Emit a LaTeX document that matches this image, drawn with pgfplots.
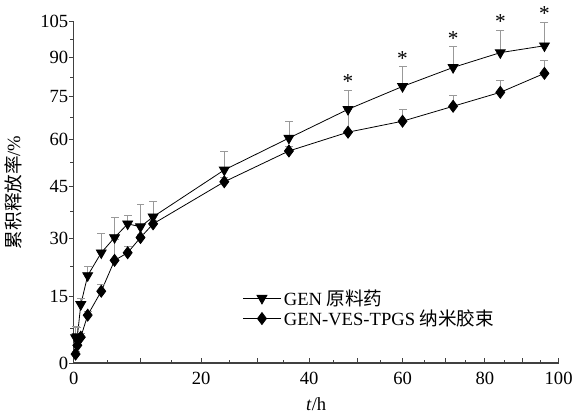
\documentclass[border=0pt]{standalone}
\usepackage{fontspec}
\setmainfont{Liberation Serif}
\newfontfamily\cjk{Noto Sans CJK SC}
\usepackage{pgfplots}
\usepackage{pgfplotstable}
\pgfplotsset{compat=1.18}

% release data: t (h), cumulative release (%), top of error bar (%)
\pgfplotstableread{
t     y     top
0.25  5.5   8.0
0.5   5.7   7.7
1     13.1  14.6
2     20.2  22.5
4     26.1  31.3
6     30.2  35.7
8     34.0  36.3
10    33.2  39.5
12    36.0  40.4
24    50.1  56.2
36    60.5  66.3
48    70.5  77.4
60    78.9  86.5
72    86.2  94.5
84    92.1  101.2
96    94.9  104.8
}\rawdrug

\pgfplotstableread{
t     y     top
0.25  1.9   2.4
0.5   3.8   4.3
1     5.6   6.4
2     10.6  11.4
4     16.3  18.0
6     24.1  29.6
8     26.1  27.9
10    30.2  31.2
12    34.0  35.0
24    46.4  47.9
36    56.2  57.7
48    62.5  70.5
60    66.3  70.5
72    71.6  75.6
84    76.7  81.2
96    83.9  88.9
}\micelle

\begin{document}
\begin{tikzpicture}
\begin{axis}[
    scale only axis,
    width=365pt, height=257pt,
    clip=false,
    x coord trafo/.code={\pgfmathparse{ln(#1+100)}},
    x coord inv trafo/.code={\pgfmathparse{exp(#1)-100}},
    y coord trafo/.code={\pgfmathparse{ln(#1+100)}},
    y coord inv trafo/.code={\pgfmathparse{exp(#1)-100}},
    xmin=0, xmax=100, ymin=0, ymax=105,
    axis lines*=left,
    axis line style={line width=0.9pt, black!75},
    xtick={0,10,...,100},
    xticklabels={0,,20,,40,,60,,80,,100},
    minor xtick={5,15,...,95},
    ytick={0,15,...,105},
    yticklabels={0,15,30,45,60,75,90,105},
    minor ytick={7.5,22.5,...,97.5},
    xtick align=inside, ytick align=outside,
    major tick length=3.5pt, minor tick length=2.5pt,
    tick style={line width=0.7pt, black!75},
    ticklabel style={font=\fontsize{14}{16}\selectfont},
    yticklabel style={inner sep=0.5pt},
    xticklabel style={yshift=-3pt},
    label style={font=\fontsize{14}{16}\selectfont},
    xlabel={\textit{t}/h},
    ylabel={{\cjk 累积释放率}/\%},
    xlabel style={yshift=-3pt},
    ylabel style={yshift=10pt},
    legend style={at={(rel axis cs:0.345,0.16)}, anchor=west, draw=none, fill=none,
        font=\fontsize{14}{16}\selectfont, row sep=-2pt, inner sep=1pt},
    legend cell align=left,
    legend image code/.code={%
        \draw[mark repeat=2, mark phase=2, #1]
        plot coordinates {(0cm,0cm) (0.5cm,0cm) (1.0cm,0cm)};},
    errbar/.style={black!40, line width=0.6pt, no marks, forget plot},
    errcap/.style={black!40, line width=0.6pt, only marks, mark=-, mark size=3pt, forget plot},
]
% error bars (upper only): vertical strokes from point to top, drawn first
\addplot[errbar] table[empty line=jump] {
t     v
0.25  5.5
0.25  8.0

0.5   5.7
0.5   7.7

1     13.1
1     14.6

2     20.2
2     22.5

4     26.1
4     31.3

6     30.2
6     35.7

8     34.0
8     36.3

10    33.2
10    39.5

12    36.0
12    40.4

24    50.1
24    56.2

36    60.5
36    66.3

48    70.5
48    77.4

60    78.9
60    86.5

72    86.2
72    94.5

84    92.1
84    101.2

96    94.9
96    104.8
};
\addplot[errbar] table[empty line=jump] {
t     v
0.25  1.9
0.25  2.4

0.5   3.8
0.5   4.3

1     5.6
1     6.4

2     10.6
2     11.4

4     16.3
4     18.0

6     24.1
6     29.6

8     26.1
8     27.9

10    30.2
10    31.2

12    34.0
12    35.0

24    46.4
24    47.9

36    56.2
36    57.7

48    62.5
48    70.5

60    66.3
60    70.5

72    71.6
72    75.6

84    76.7
84    81.2

96    83.9
96    88.9
};
\addplot[errcap] table[x=t, y=top] {\rawdrug};
\addplot[errcap] table[x=t, y=top] {\micelle};

\addplot[black, line width=0.6pt, mark=triangle*, mark size=4.3pt,
    mark options={rotate=180, fill=black}]
    table[x=t, y=y] {\rawdrug};
\addlegendentry{GEN {\cjk 原料药}}
\addplot[black, line width=0.6pt, mark=diamond*, mark size=4.5pt,
    mark options={fill=black}]
    table[x=t, y=y] {\micelle};
\addlegendentry{GEN-VES-TPGS {\cjk 纳米胶束}}

% significance marks above the error bars (generous inner sep keeps a margin on top)
\addplot[only marks, mark=none, forget plot,
    nodes near coords={*},
    nodes near coords style={font=\fontsize{16}{16}\selectfont, anchor=south,
        inner sep=5pt, yshift=-4pt}]
    table[x=t, y=top] {
t   top
48  77.4
60  86.5
72  94.5
84  101.2
96  104.8
};
\end{axis}
\end{tikzpicture}
\end{document}
